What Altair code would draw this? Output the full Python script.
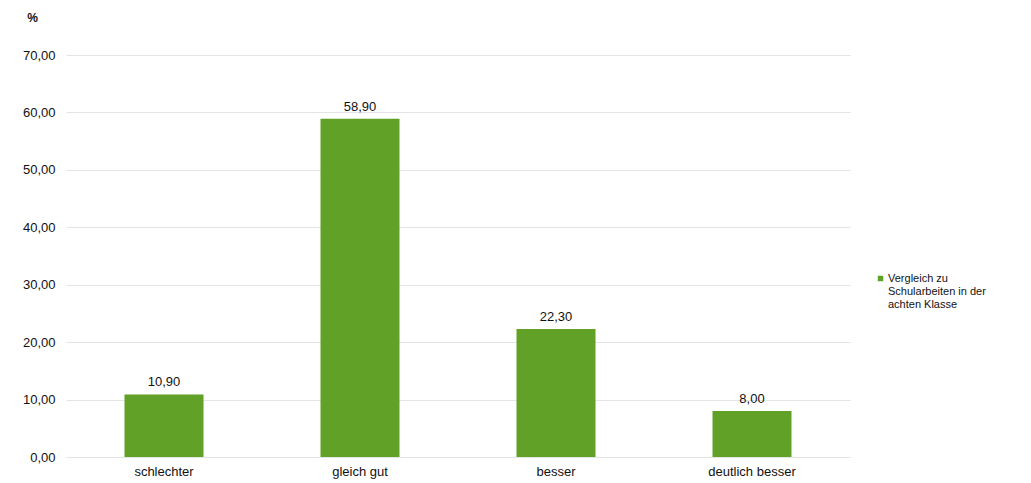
import altair as alt
import pandas as pd

categories = ["schlechter", "gleich gut", "besser", "deutlich besser"]
values = [10.90, 58.90, 22.30, 8.00]
series_name = "Vergleich zu\nSchularbeiten in der\nachten Klasse"
y_ticks = [0, 10, 20, 30, 40, 50, 60, 70]

df = pd.DataFrame({"cat": categories, "val": values, "series": [series_name] * len(values)})

FONT = "Liberation Sans"
GREEN = "#62a127"

base = alt.Chart(df).encode(
    x=alt.X("cat:N", sort=categories, title=None,
            scale=alt.Scale(paddingInner=0.6, paddingOuter=0.3),
            axis=alt.Axis(labelAngle=0, domain=False, ticks=False, labelPadding=8,
                          labelFontSize=13, labelColor="#111111", labelFont=FONT)),
)

bars = base.mark_bar(size=79).encode(
    y=alt.Y("val:Q", scale=alt.Scale(domain=[0, 70], nice=False),
            axis=alt.Axis(values=y_ticks, title="%", titleAngle=0, titleX=-34, titleY=-31,
                          titleFontSize=12, titleFont=FONT, titleFontWeight="bold", titleColor="#111111",
                          domain=False, ticks=False, labelPadding=11, labelFontSize=13,
                          labelColor="#111111", labelFont=FONT, gridColor="#e4e4e4",
                          labelExpr="replace(format(datum.value, '.2f'), '.', ',')")),
    color=alt.Color("series:N", scale=alt.Scale(range=[GREEN]),
                    legend=alt.Legend(title=None, orient="none", legendX=809, legendY=218,
                                      symbolType="square", symbolSize=30, labelFontSize=11,
                                      labelFont=FONT, labelColor="#111111", labelLimit=300,
                                      labelOffset=2,
                                      labelExpr="split(datum.label, '\\n')")),
)

labels = base.mark_text(dy=-12, fontSize=13, font=FONT, color="#111111").encode(
    y=alt.Y("val:Q"),
    text=alt.Text("lbl:N"),
).transform_calculate(lbl="replace(format(datum.val, '.2f'), '.', ',')")

chart = (bars + labels).properties(
    width=784, height=402,
    autosize=alt.AutoSizeParams(type="none"),
    padding={"left": 58, "top": 47, "right": 165, "bottom": 25},
).configure(background="white", view=alt.ViewConfig(stroke=None))

chart.save("out.html", embed_options={"renderer": "svg", "actions": False})
